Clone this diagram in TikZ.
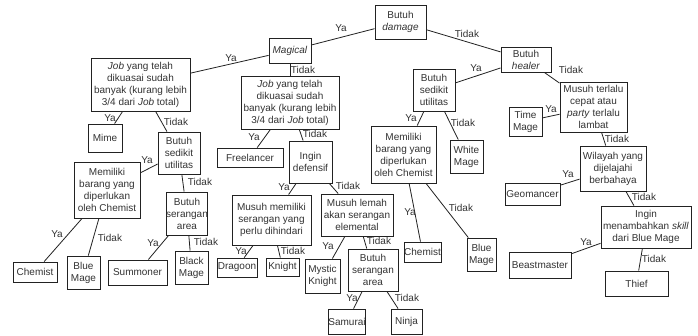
\documentclass[tikz,border=0pt]{standalone}
\usepackage{fontspec}
\setmainfont{Liberation Sans}
\definecolor{ink}{HTML}{333333}
\definecolor{edge}{HTML}{222222}
\tikzset{
  box/.style={draw=edge, line width=0.9pt, fill=white, inner sep=0pt, align=center,
    text=ink, font=\fontsize{10}{12}\selectfont},
  lab/.style={inner sep=0pt, text=ink, font=\fontsize{10}{12}\selectfont},
  conn/.style={draw=edge, line width=0.8pt}
}
\newcommand{\bx}[6]{\node[box, minimum width={(#4-#2)*1pt}, minimum height={(#5-#3)*1pt}] (#1) at ({(#2+#4)/2},{(#3+#5)/2}) {#6};}
\begin{document}
\begin{tikzpicture}[x=1pt,y=-1pt]
\useasboundingbox[fill=white] (0,0) rectangle (698,335);
% boxes
\bx{dmg}{375}{5}{426}{39}{Butuh\\\textit{damage}}
\bx{mag}{269}{38}{311}{63}{\textit{Magical}}
\bx{jl}{91}{58}{190}{111}{\textit{Job} yang telah\\dikuasai sudah\\banyak (kurang lebih\\3/4 dari \textit{Job} total)}
\bx{jr}{241}{76}{339}{129}{\textit{Job} yang telah\\dikuasai sudah\\banyak (kurang lebih\\3/4 dari \textit{Job} total)}
\bx{mime}{88}{124}{122}{152}{Mime}
\bx{sul}{158}{132}{200}{174}{Butuh\\sedikit\\utilitas}
\bx{free}{217}{148}{283}{167}{Freelancer}
\bx{def}{289}{141}{332}{183}{Ingin\\defensif}
\bx{meml}{74}{162}{140}{218}{Memiliki\\barang yang\\diperlukan\\oleh Chemist}
\bx{sal}{167}{192}{207}{235}{Butuh\\serangan\\area}
\bx{mmem}{232}{195}{311}{245}{Musuh memiliki\\serangan yang\\perlu dihindari}
\bx{mlem}{321}{194}{393}{236}{Musuh lemah\\akan serangan\\elemental}
\bx{chl}{13}{262}{57}{282}{Chemist}
\bx{bml}{67}{256}{100}{289}{Blue\\Mage}
\bx{sum}{108}{260}{167}{285}{Summoner}
\bx{blk}{175}{251}{208}{284}{Black\\Mage}
\bx{drg}{217}{258}{257}{277}{Dragoon}
\bx{kni}{266}{258}{299}{276}{Knight}
\bx{myk}{305}{259}{340}{293}{Mystic\\Knight}
\bx{sam}{348}{249}{398}{291}{Butuh\\serangan\\area}
\bx{smr}{332}{309}{362}{334}{Samurai}
\bx{nin}{391}{309}{422}{334}{Ninja}
\bx{heal}{501}{47}{551}{72}{Butuh\\\textit{healer}}
\bx{sur}{413}{69}{455}{111}{Butuh\\sedikit\\utilitas}
\bx{memm}{371}{126}{436}{183}{Memiliki\\barang yang\\diperlukan\\oleh Chemist}
\bx{wht}{450}{140}{483}{173}{White\\Mage}
\bx{chm}{404}{242}{441}{262}{Chemist}
\bx{bmm}{467}{238}{496}{271}{Blue\\Mage}
\bx{mtc}{560}{82}{627}{132}{Musuh terlalu\\cepat atau\\\textit{party} terlalu\\lambat}
\bx{tim}{509}{107}{542}{136}{Time\\Mage}
\bx{wil}{580}{146}{646}{191}{Wilayah yang\\dijelajahi\\berbahaya}
\bx{geo}{505}{183}{560}{205}{Geomancer}
\bx{ing}{601}{206}{691}{248}{Ingin\\menambahkan \textit{skill}\\dari Blue Mage}
\bx{bst}{509}{252}{571}{278}{Beastmaster}
\bx{thf}{605}{271}{668}{296}{Thief}
% connectors
\begin{scope}[on background layer/.style={}]
\end{scope}
\draw[conn] (dmg) -- (mag);
\draw[conn] (mag) -- (jl);
\draw[conn] (mag) -- (jr);
\draw[conn] (jl) -- (mime);
\draw[conn] (jl) -- (sul);
\draw[conn] (jr) -- (free);
\draw[conn] (jr) -- (def);
\draw[conn] (sul) -- (meml);
\draw[conn] (sul) -- (sal);
\draw[conn] (meml) -- (chl);
\draw[conn] (meml) -- (bml);
\draw[conn] (sal) -- (sum);
\draw[conn] (sal) -- (blk);
\draw[conn] (def) -- (mmem);
\draw[conn] (def) -- (mlem);
\draw[conn] (mmem) -- (drg);
\draw[conn] (mmem) -- (kni);
\draw[conn] (mlem) -- (myk);
\draw[conn] (mlem) -- (sam);
\draw[conn] (sam) -- (smr);
\draw[conn] (sam) -- (nin);
\draw[conn] (dmg) -- (heal);
\draw[conn] (heal) -- (sur);
\draw[conn] (heal) -- (mtc);
\draw[conn] (sur) -- (memm);
\draw[conn] (sur) -- (wht);
\draw[conn] (memm) -- (chm);
\draw[conn] (memm) -- (bmm);
\draw[conn] (mtc) -- (tim);
\draw[conn] (mtc) -- (wil);
\draw[conn] (wil) -- (geo);
\draw[conn] (wil) -- (ing);
\draw[conn] (ing) -- (bst);
\draw[conn] (ing) -- (thf);
% labels
\node[lab] (l1) at (341,28) {Ya};
\node[lab] (l2) at (231,58) {Ya};
\node[lab] (l3) at (303,70) {Tidak};
\node[lab] (l4) at (467,34) {Tidak};
\node[lab] (l5) at (476,68) {Ya};
\node[lab] (l6) at (571,70) {Tidak};
\node[lab] (l7) at (411,118) {Ya};
\node[lab] (l8) at (463,123) {Tidak};
\node[lab] (l9) at (551,109) {Ya};
\node[lab] (l10) at (617,139) {Tidak};
\node[lab] (l11) at (568,174) {Ya};
\node[lab] (l12) at (644,197) {Tidak};
\node[lab] (l13) at (586,242) {Ya};
\node[lab] (l14) at (654,259) {Tidak};
\node[lab] (l15) at (410,212) {Ya};
\node[lab] (l16) at (461,208) {Tidak};
\node[lab] (l17) at (110,118) {Ya};
\node[lab] (l18) at (176,122) {Tidak};
\node[lab] (l19) at (254,137) {Ya};
\node[lab] (l20) at (315,134) {Tidak};
\node[lab] (l21) at (147,160) {Ya};
\node[lab] (l22) at (200,182) {Tidak};
\node[lab] (l23) at (57,234) {Ya};
\node[lab] (l24) at (110,238) {Tidak};
\node[lab] (l25) at (153,243) {Ya};
\node[lab] (l26) at (206,242) {Tidak};
\node[lab] (l27) at (284,187) {Ya};
\node[lab] (l28) at (348,186) {Tidak};
\node[lab] (l29) at (241,251) {Ya};
\node[lab] (l30) at (293,251) {Tidak};
\node[lab] (l31) at (328,246) {Ya};
\node[lab] (l32) at (379,241) {Tidak};
\node[lab] (l33) at (352,298) {Ya};
\node[lab] (l34) at (407,298) {Tidak};
\end{tikzpicture}
\end{document}
